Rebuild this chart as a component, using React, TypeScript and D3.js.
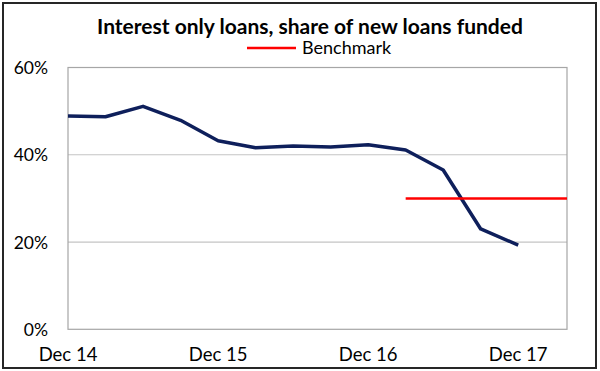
import React from "react";
import * as d3 from "d3";

const quarterLabels = [
  "Dec 14", "Mar 15", "Jun 15", "Sep 15", "Dec 15", "Mar 16", "Jun 16",
  "Sep 16", "Dec 16", "Mar 17", "Jun 17", "Sep 17", "Dec 17",
];
const interestOnlyShare = [
  48.9, 48.7, 51.1, 47.9, 43.2, 41.6, 42.0, 41.8, 42.3, 41.1, 36.5, 23.0, 19.3,
];
const benchmarkStartIndex = 9;
const benchmarkValue = 30;
const xTickLabels = ["Dec 14", "Dec 15", "Dec 16", "Dec 17"];
const yTicks = [0, 20, 40, 60];
const xDomainMax = 13.3;

const W = 600;
const H = 371;
const M = { left: 68, right: 567, top: 67.5, bottom: 329.3 };
const FONT = "Lato, 'Open Sans', sans-serif";

export default function App() {
  const x = d3.scaleLinear().domain([0, xDomainMax]).range([M.left, M.right]);
  const y = d3.scaleLinear().domain([0, 60]).range([M.bottom, M.top]);

  const line = d3
    .line<number>()
    .x((_, i) => x(i))
    .y((d) => y(d));

  const benchData: [number, number][] = [
    [benchmarkStartIndex, benchmarkValue],
    [xDomainMax, benchmarkValue],
  ];
  const benchLine = d3
    .line<[number, number]>()
    .x((d) => x(d[0]))
    .y((d) => y(d[1]));

  return (
    <div style={{ position: "fixed", left: 0, top: 0, width: W, height: H }}>
      <svg width={W} height={H} style={{ display: "block", background: "#fff" }}>
        <rect x={3} y={3} width={593} height={365} fill="#fff" stroke="#262626" strokeWidth={2} />
        <text
          x={310}
          y={33.5}
          textAnchor="middle"
          fontFamily={FONT}
          fontWeight="bold"
          fontSize={21}
          fill="#000"
        >
          Interest only loans, share of new loans funded
        </text>
        <line x1={247} x2={296} y1={48} y2={48} stroke="#ff0000" strokeWidth={2.5} />
        <text x={302} y={54} fontFamily={FONT} fontSize={18} fill="#000">
          Benchmark
        </text>

        {yTicks.map((t) => (
          <g key={t}>
            {t > 0 && t < 60 && (
              <line x1={M.left} x2={M.right} y1={y(t)} y2={y(t)} stroke="#c4c4c4" strokeWidth={1.2} />
            )}
            <text
              x={48}
              y={y(t) + 6.5}
              textAnchor="end"
              fontFamily={FONT}
              fontSize={17.5}
              fill="#000"
            >
              {t}%
            </text>
          </g>
        ))}
        <rect
          x={M.left}
          y={M.top}
          width={M.right - M.left}
          height={M.bottom - M.top}
          fill="none"
          stroke="#a6a6a6"
          strokeWidth={1.2}
        />

        {xTickLabels.map((lab) => (
          <text
            key={lab}
            x={x(quarterLabels.indexOf(lab))}
            y={361}
            textAnchor="middle"
            fontFamily={FONT}
            fontSize={18.5}
            fill="#000"
          >
            {lab}
          </text>
        ))}

        <path
          d={line(interestOnlyShare) || ""}
          fill="none"
          stroke="#0e1f5b"
          strokeWidth={3.5}
          strokeLinejoin="round"
        />
        <path d={benchLine(benchData) || ""} fill="none" stroke="#ff0000" strokeWidth={2.5} />
      </svg>
    </div>
  );
}
